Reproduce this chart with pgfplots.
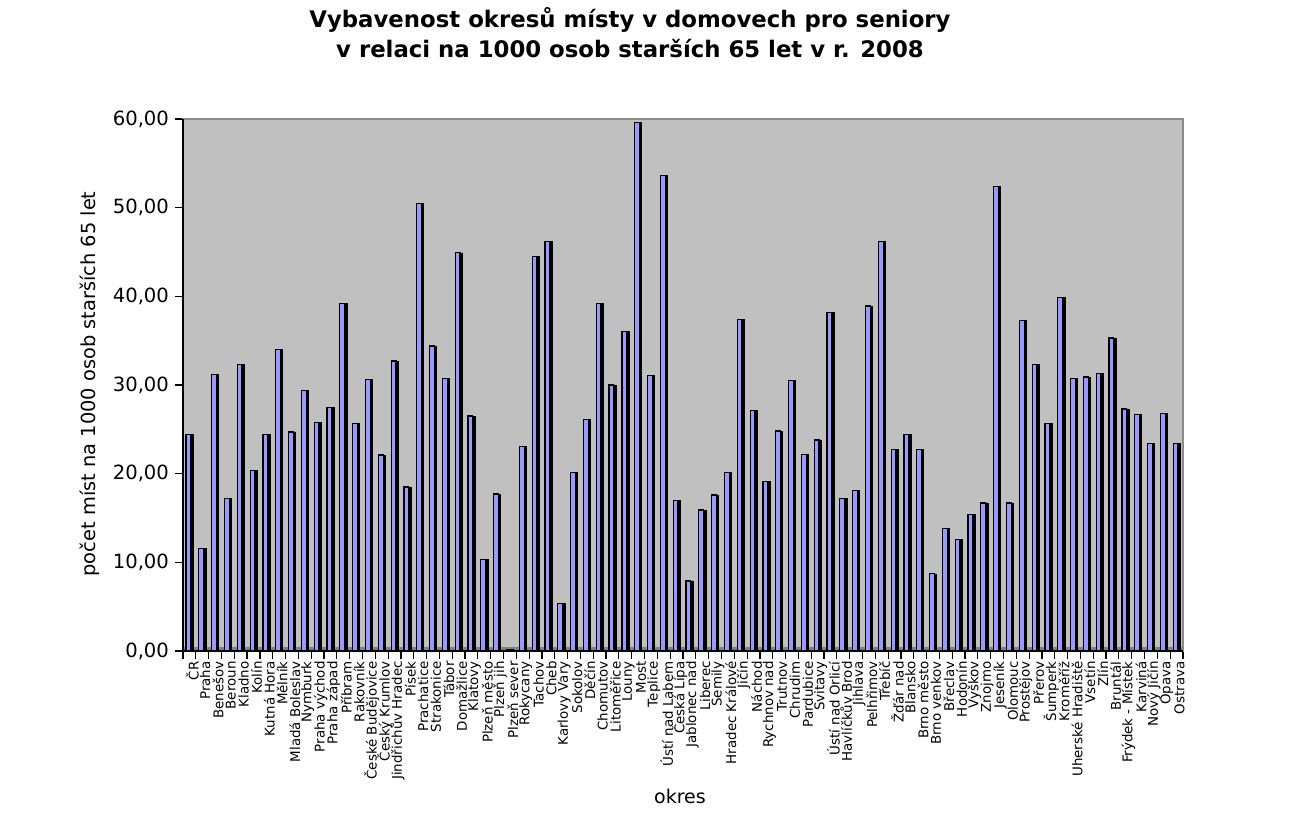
\documentclass[border=0pt]{standalone}
\usepackage{pgfplots}
\pgfplotsset{compat=1.18}
\usepackage{pgfplotstable}
\usepackage{fontspec}
\setmainfont{DejaVu Sans}
\definecolor{bgray}{HTML}{C0C0C0}
\definecolor{barblue}{HTML}{9999FF}
\definecolor{framegray}{HTML}{8C8C8C}
\definecolor{floorgray}{HTML}{808080}

\pgfplotstableread{
x y
0 24.4
1 11.6
2 31.2
3 17.2
4 32.3
5 20.4
6 24.4
7 34.0
8 24.7
9 29.4
10 25.8
11 27.5
12 39.2
13 25.7
14 30.6
15 22.1
16 32.7
17 18.5
18 50.5
19 34.4
20 30.7
21 44.9
22 26.5
23 10.3
24 17.7
25 0.15
26 23.1
27 44.5
28 46.2
29 5.4
30 20.1
31 26.1
32 39.2
33 30.0
34 36.0
35 59.6
36 31.1
37 53.6
38 17.0
39 7.9
40 15.9
41 17.6
42 20.1
43 37.4
44 27.1
45 19.1
46 24.8
47 30.5
48 22.2
49 23.8
50 38.2
51 17.2
52 18.1
53 38.9
54 46.2
55 22.7
56 24.4
57 22.7
58 8.7
59 13.8
60 12.6
61 15.4
62 16.7
63 52.4
64 16.7
65 37.3
66 32.3
67 25.7
68 39.9
69 30.7
70 30.9
71 31.3
72 35.3
73 27.3
74 26.7
75 23.4
76 26.8
77 23.4
}\data

\begin{document}
\begin{tikzpicture}
\useasboundingbox (-91.5pt,-85.5pt) rectangle (565pt,325.5pt);
\begin{axis}[
  at={(0,0)}, anchor=south west,
  scale only axis, width=500pt, height=266pt,
  xmin=-0.5, xmax=77.5, ymin=0, ymax=60,
  ybar,
  axis background/.style={fill=bgray},
  axis line style={draw=framegray, line width=1pt},
  tick align=outside,
  xtick pos=bottom, ytick pos=left,
  ytick={0,10,...,60},
  major tick length=4pt, minor tick length=4pt,
  every tick/.style={black, line width=0.6pt},
  y tick label style={font=\fontsize{9.8}{10}\selectfont, xshift=0.5pt, /pgf/number format/fixed, /pgf/number format/fixed zerofill, /pgf/number format/precision=2, /pgf/number format/use comma, /pgf/number format/assume math mode=true},
  xtick={0,...,77},
  major x tick style={draw=none},
  minor xtick={-0.5,0.5,...,77.5},
  xticklabels={ČR, Praha, Benešov, Beroun, Kladno, Kolín, Kutná Hora, Mělník, Mladá Boleslav, Nymburk, Praha východ, Praha západ, Příbram, Rakovník, České Budějovice, Český Krumlov, Jindřichův Hradec, Písek, Prachatice, Strakonice, Tábor, Domažlice, Klatovy, Plzeň město, Plzeň jih, Plzeň sever, Rokycany, Tachov, Cheb, Karlovy Vary, Sokolov, Děčín, Chomutov, Litoměřice, Louny, Most, Teplice, Ústí nad Labem, Česká Lípa, Jablonec nad, Liberec, Semily, Hradec Králové, Jičín, Náchod, Rychnov nad, Trutnov, Chrudim, Pardubice, Svitavy, Ústí nad Orlicí, Havlíčkův Brod, Jihlava, Pelhřimov, Třebíč, Žďár nad, Blansko, Brno město, Brno venkov, Břeclav, Hodonín, Vyškov, Znojmo, Jeseník, Olomouc, Prostějov, Přerov, Šumperk, Kroměříž, Uherské Hradiště, Vsetín, Zlín, Bruntál, Frýdek - Místek, Karviná, Nový Jičín, Opava, Ostrava},
  x tick label style={rotate=90, anchor=east, font=\fontsize{6.7}{6.7}\selectfont, inner sep=1pt, yshift=-1.5pt},
  xlabel={okres},
  xlabel style={at={(axis description cs:0.497,-0.2726)}, anchor=center, font=\fontsize{9.5}{10}\selectfont},
  ylabel={počet míst na 1000 osob starších 65 let},
  ylabel style={at={(axis description cs:-0.093,0.502)}, anchor=center, font=\fontsize{9.7}{10}\selectfont},
  title={Vybavenost okresů místy v domovech pro seniory\\v relaci na 1000 osob starších 65 let v r. 2008},
  title style={at={(axis description cs:0.447,1)}, anchor=south, yshift=21pt, align=center, font=\bfseries\fontsize{11.4}{15}\selectfont},
  clip=false,
]
\fill[floorgray] (axis cs:-0.5,0) rectangle (axis cs:77.5,0.45);
\addplot[fill=black, draw=black, line width=0.3pt, bar width=1.4pt, bar shift=1.1pt] table[x=x, y=y] {\data};
\addplot[fill=barblue, draw=black, line width=0.6pt, bar width=2.4pt, bar shift=-0.5pt] table[x=x, y=y] {\data};
\draw[black, line width=0.8pt] (axis cs:-0.5,60) -- (axis cs:-0.5,0) -- (axis cs:77.5,0);
\end{axis}
\end{tikzpicture}
\end{document}
